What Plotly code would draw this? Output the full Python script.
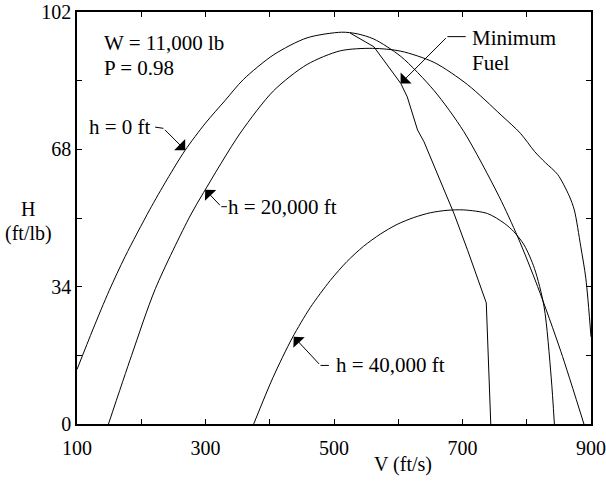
import plotly.graph_objects as go

# ---- data ----
V_h0 = [100, 125, 150, 175, 213, 240, 268, 300, 330, 359, 406, 458, 512, 536, 562, 604, 656, 702, 757, 786, 817, 853, 889]
H_h0 = [13.5, 23.5, 33, 41.5, 53, 60.5, 67.7, 74.5, 80, 85.3, 91.4, 95.6, 97, 96.6, 95.3, 91, 82.5, 72.4, 56.3, 46.3, 34, 18, 0]

V_h20 = [149, 185, 222, 276, 297, 354, 406, 458, 510, 560, 604, 656, 708, 760, 790, 812, 829, 848, 866, 874, 884, 892, 900]
H_h20 = [0, 17, 33.5, 51.5, 57.3, 72, 82.5, 89, 92.4, 93, 92.3, 89.5, 84, 76.5, 72, 67.5, 64.7, 61.8, 56.5, 53, 44, 36, 21.6]

V_h40 = [375, 405, 435, 463, 494, 520, 546, 572, 598, 624, 650, 676, 702, 739, 765, 780, 796, 812, 827, 838, 843]
H_h40 = [0, 11.5, 21.3, 28.8, 35.5, 40.2, 44, 47, 49.4, 51.1, 52.3, 52.9, 53.0, 52.1, 49.7, 47.6, 44.3, 38.5, 29, 11.6, 0]

V_mf = [525, 562, 604, 614, 630, 640, 687, 708, 737, 744]
H_mf = [96.8, 93.4, 84.3, 81, 72.8, 69.9, 52, 43, 30, 0]

x_ticks = [100, 200, 300, 400, 500, 600, 700, 800, 900]
x_ticktext = ["100", "", "300", "", "500", "", "700", "", "900"]
y_ticks = [0, 17, 34, 51, 68, 85, 102]
y_ticktext = ["0", "", "34", "", "68", "", "102"]

FONT = "Liberation Serif"
FS_TICK = 20
FS_TXT = 21

W, Hh = 606, 488
PL, PR, PT, PB = 77, 591, 12, 424          # plot area in window pixels
ml, mr, mt, mb = PL, W - PR, PT, Hh - PB


def px_to_paper(px, py):
    return (px - PL) / (PR - PL), 1 - (py - PT) / (PB - PT)


fig = go.Figure()
for V, H, shape in [(V_h0, H_h0, "spline"), (V_h20, H_h20, "spline"), (V_h40, H_h40, "spline"), (V_mf, H_mf, "linear")]:
    line = dict(color="black", width=1, shape=shape)
    if shape == "spline":
        line["smoothing"] = 0.8
    fig.add_trace(go.Scatter(x=V, y=H, mode="lines", line=line, showlegend=False, hoverinfo="skip"))

# leaders (short dash from text) and arrow tips for the curve labels
leaders = [
    ([(221.6, 73.5), (234.5, 73.2)], (268.4, 67.8)),
    ([(333.4, 53.8), (324.6, 53.8)], (299.6, 58.0)),
    ([(492, 14.5), (479, 14.5)], (437.3, 21.6)),
    ([(705, 95.9), (676.5, 95.9)], (603.7, 84.3)),
]
for pts, tip in leaders:
    path = "M {} {} L {} {}".format(pts[0][0], pts[0][1], pts[1][0], pts[1][1])
    fig.add_shape(type="path", path=path, xref="x", yref="y", line=dict(color="black", width=1))
    fig.add_annotation(x=tip[0], y=tip[1], ax=pts[1][0], ay=pts[1][1], axref="x", ayref="y",
                       xref="x", yref="y", text="", showarrow=True, arrowhead=1, arrowsize=2.6,
                       arrowwidth=1, arrowcolor="black", standoff=0, startstandoff=0)

texts = [
    ("W = 11,000 lb", 139.0, 94.4, "left"),
    ("P = 0.98", 139.0, 88.2, "left"),
    ("h = 0 ft", 218.0, 73.5, "right"),
    ("h = 20,000 ft", 332.5, 53.8, "left"),
    ("h = 40,000 ft", 500.5, 14.5, "left"),
    ("Minimum", 711.0, 95.5, "left"),
    ("Fuel", 711.0, 89.3, "left"),
]
for t, x, y, anc in texts:
    fig.add_annotation(x=x, y=y, xref="x", yref="y", text=t, showarrow=False, xanchor=anc, yanchor="middle",
                       font=dict(family=FONT, size=FS_TXT, color="black"))

# axis titles
for t, px, py in [("H", 28, 209), ("(ft/lb)", 28, 233), ("V (ft/s)", 403, 464)]:
    xx, yy = px_to_paper(px, py)
    fig.add_annotation(x=xx, y=yy, xref="paper", yref="paper", text=t, showarrow=False,
                       xanchor="center", yanchor="middle", font=dict(family=FONT, size=20, color="black"))

fig.update_layout(
    width=W, height=Hh,
    margin=dict(l=ml, r=mr, t=mt, b=mb, autoexpand=False),
    paper_bgcolor="white", plot_bgcolor="white",
    font=dict(family=FONT, size=FS_TICK, color="black"),
    showlegend=False,
    xaxis=dict(range=[100, 900], tickvals=x_ticks, ticktext=x_ticktext, ticks="inside", ticklen=5,
               tickcolor="black", showline=True, linecolor="black", linewidth=1.5, mirror="ticks",
               showgrid=False, zeroline=False, ticklabelstandoff=5, automargin=False,
               tickfont=dict(family=FONT, size=FS_TICK, color="black")),
    yaxis=dict(range=[0, 102], tickvals=y_ticks, ticktext=y_ticktext, ticks="inside", ticklen=5,
               tickcolor="black", showline=True, linecolor="black", linewidth=1.5, mirror="ticks",
               showgrid=False, zeroline=False, ticklabelstandoff=0, automargin=False,
               tickfont=dict(family=FONT, size=FS_TICK, color="black")),
)

fig.write_html("out.html", config={"displayModeBar": False},
               post_script="document.body.style.margin='0px';document.body.style.overflow='hidden';")
